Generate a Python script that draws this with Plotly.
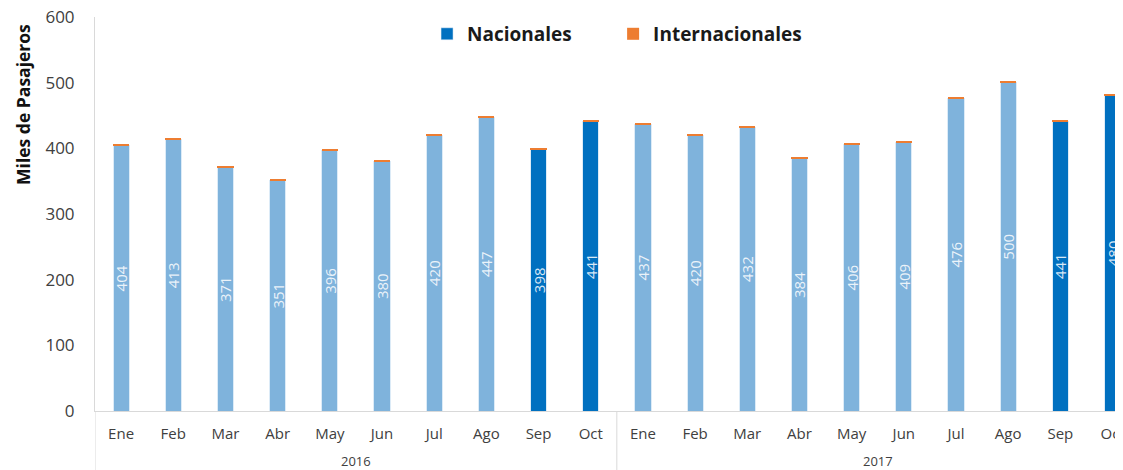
import plotly.graph_objects as go

years = ["2016"] * 10 + ["2017"] * 10
months = ["Ene", "Feb", "Mar", "Abr", "May", "Jun", "Jul", "Ago", "Sep", "Oct"] * 2
nacionales = [404, 413, 371, 351, 396, 380, 420, 447, 398, 441,
              437, 420, 432, 384, 406, 409, 476, 500, 441, 480]
internacionales = [2, 2, 2, 2, 2, 2, 2, 2, 2, 2,
                   2, 2, 2, 3, 2, 2, 2, 2, 2, 3]
highlight = [False] * 8 + [True, True] + [False] * 8 + [True, True]

LIGHT = "#7FB3DC"
DARK = "#0070C0"
ORANGE = "#ED7D31"
GRID = "#D9D9D9"
nac_colors = [DARK if h else LIGHT for h in highlight]
FONT = "Open Sans"

cats = [f"{m} {y}" for m, y in zip(months, years)]

fig = go.Figure()
fig.add_trace(go.Bar(
    x=cats, y=nacionales, name="Nacionales",
    marker=dict(color=nac_colors, line=dict(color="#DCEBF7", width=1)),
    text=[str(v) for v in nacionales], textposition="inside",
    insidetextanchor="middle", textangle=-90, constraintext="none",
    textfont=dict(family=FONT, size=15, color="rgba(255,255,255,0.85)"),
    showlegend=False,
))
fig.add_trace(go.Bar(
    x=[None], y=[None], name="Nacionales",
    marker=dict(color=DARK), showlegend=True, legend="legend",
))
fig.add_trace(go.Bar(
    x=cats, y=internacionales, name="Internacionales",
    marker=dict(color=ORANGE, line=dict(width=0)), legend="legend2",
))

# year group labels and dividers
annotations = [dict(text="<b>Miles de Pasajeros</b>", xref="paper", yref="paper",
                    x=-0.07, y=0.777, textangle=-90, showarrow=False,
                    xanchor="center", yanchor="middle",
                    font=dict(family=FONT, size=17.5, color="#111111"))]
shapes = []
uniq_years = list(dict.fromkeys(years))
for yr in uniq_years:
    idx = [i for i, y in enumerate(years) if y == yr]
    annotations.append(dict(text=yr, xref="x", yref="paper", x=(idx[0] + idx[-1]) / 2,
                            y=-0.126, showarrow=False, xanchor="center", yanchor="middle",
                            font=dict(family=FONT, size=13, color="#404040")))
    shapes.append(dict(type="line", xref="x", yref="paper", x0=idx[0] - 0.5, x1=idx[0] - 0.5,
                       y0=0, y1=-0.17, line=dict(color=GRID, width=1)))

legend_common = dict(orientation="h", y=0.957, xanchor="left", yanchor="middle",
                     font=dict(family=FONT, size=19, color="#1a1a1a", weight="bold"),
                     itemwidth=30, bgcolor="rgba(0,0,0,0)")

fig.update_layout(
    width=1123, height=470,
    barmode="stack", bargap=0.69,
    margin=dict(l=87, r=8, t=7, b=67),
    paper_bgcolor="white", plot_bgcolor="white",
    font=dict(family=FONT, color="#404040", size=14),
    legend=dict(x=0.323, **legend_common),
    legend2=dict(x=0.504, **legend_common),
    showlegend=True,
    annotations=annotations,
    shapes=shapes,
)
fig.update_yaxes(range=[0, 600], dtick=100, showgrid=False, zeroline=False,
                 showline=True, linecolor=GRID, linewidth=1, automargin=False,
                 ticks="outside", ticklen=16, tickcolor="rgba(0,0,0,0)",
                 ticklabeloverflow="allow",
                 tickfont=dict(size=17, color="#404040"))
fig.update_xaxes(type="category", range=[-0.5, 19.2], showgrid=False,
                 tickvals=cats, ticktext=months,
                 showline=True, linecolor=GRID, linewidth=1, automargin=False,
                 ticks="outside", ticklen=9, tickcolor="rgba(0,0,0,0)",
                 ticklabeloverflow="allow",
                 tickfont=dict(size=15, color="#404040"))

fig.write_html("out.html")
